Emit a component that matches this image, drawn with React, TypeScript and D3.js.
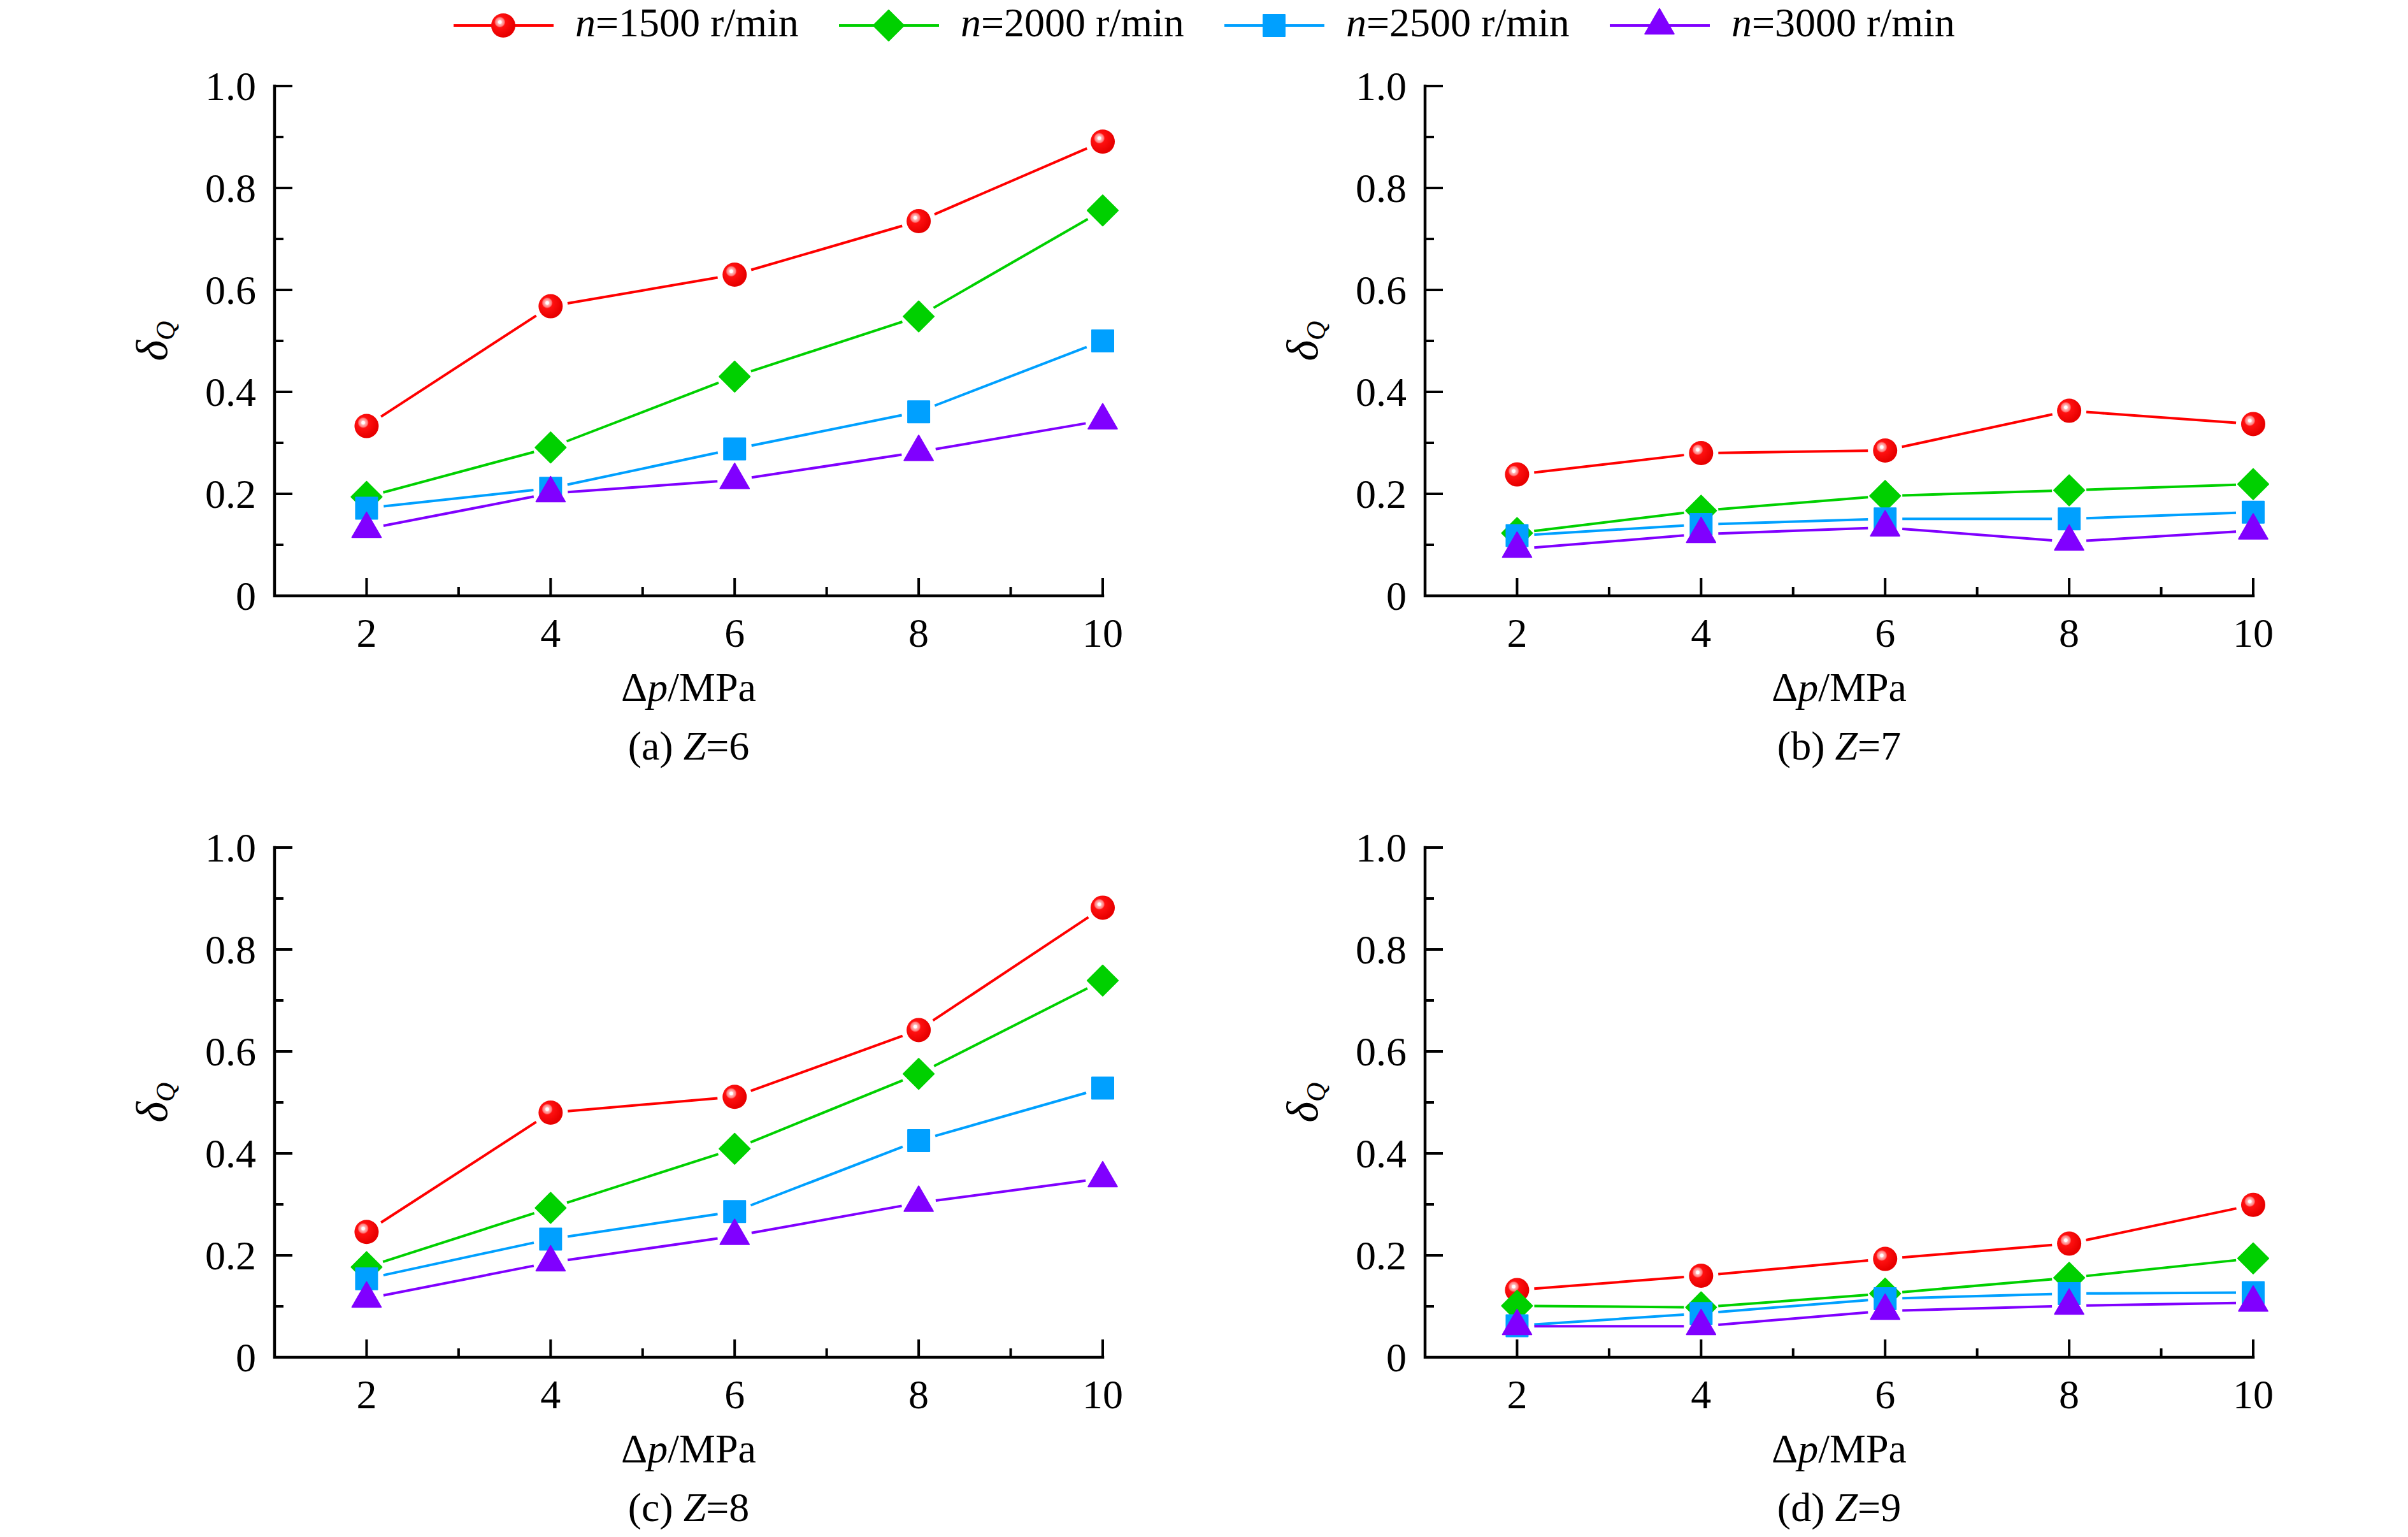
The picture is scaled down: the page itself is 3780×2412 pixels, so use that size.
import React from 'react';
import * as d3 from 'd3';

// Δp values (MPa) on the x axis
const pressures = [2, 4, 6, 8, 10];
const speeds = [1500, 2000, 2500, 3000];
const colors = ['#ff0000', '#00d000', '#00a0ff', '#8000ff'];
const markers = ['circle', 'diamond', 'square', 'triangle'];

const yTicks = [0, 0.2, 0.4, 0.6, 0.8, 1.0];
const yMinor = [0.1, 0.3, 0.5, 0.7, 0.9];
const xMinor = [3, 5, 7, 9];

// δQ per speed (rows) and pressure (columns)
const deltaZ6 = [
  [0.333, 0.568, 0.630, 0.735, 0.891],
  [0.194, 0.291, 0.430, 0.548, 0.756],
  [0.172, 0.211, 0.288, 0.361, 0.500],
  [0.131, 0.201, 0.227, 0.282, 0.344],
];
const deltaZ7 = [
  [0.238, 0.280, 0.285, 0.363, 0.337],
  [0.123, 0.167, 0.196, 0.207, 0.219],
  [0.118, 0.140, 0.151, 0.151, 0.164],
  [0.092, 0.121, 0.134, 0.106, 0.128],
];
const deltaZ8 = [
  [0.246, 0.480, 0.511, 0.642, 0.882],
  [0.177, 0.293, 0.409, 0.556, 0.739],
  [0.154, 0.232, 0.286, 0.425, 0.528],
  [0.115, 0.186, 0.238, 0.303, 0.351],
];
const deltaZ9 = [
  [0.132, 0.160, 0.193, 0.223, 0.299],
  [0.101, 0.098, 0.125, 0.156, 0.194],
  [0.062, 0.086, 0.115, 0.125, 0.127],
  [0.061, 0.061, 0.091, 0.101, 0.107],
];

const panels = [
  { tag: 'a', z: 6, data: deltaZ6, col: 0, row: 0 },
  { tag: 'b', z: 7, data: deltaZ7, col: 1, row: 0 },
  { tag: 'c', z: 8, data: deltaZ8, col: 0, row: 1 },
  { tag: 'd', z: 9, data: deltaZ9, col: 1, row: 1 },
];

const W = 3780;
const H = 2412;
const FONT = '"Liberation Serif", "Times New Roman", serif';
const FS = 64;
const left = 431, right = 1731, top = 135, bottom = 935;
const colStep = 1806, rowStep = 1195;
const GAP = 27;

const x = d3.scaleLinear().domain([1, 10]).range([left, right]);
const y = d3.scaleLinear().domain([0, 1]).range([bottom, top]);

const diamondPath = d3.symbol(d3.symbolSquare, 34 * 34)() as string;
const squarePath = d3.symbol(d3.symbolSquare, 34 * 34)() as string;
const trianglePath = d3.symbol(d3.symbolTriangle, 900)() as string;

function Marker({ kind, color, cx, cy }: { kind: string; color: string; cx: number; cy: number }) {
  if (kind === 'circle') {
    return <circle cx={cx} cy={cy} r={19} fill="url(#ball)" />;
  }
  const d = kind === 'diamond' ? diamondPath : kind === 'square' ? squarePath : trianglePath;
  const rot = kind === 'diamond' ? ' rotate(45)' : '';
  return (
    <path
      d={d}
      transform={`translate(${cx},${cy})${rot}`}
      fill={color}
      stroke={color}
      strokeWidth={2}
      strokeLinejoin="round"
    />
  );
}

// line pieces between markers, cut back so they stop short of each symbol
function segments(pts: [number, number][]) {
  const out: [number, number, number, number][] = [];
  for (let i = 0; i < pts.length - 1; i++) {
    const [x1, y1] = pts[i];
    const [x2, y2] = pts[i + 1];
    const len = Math.hypot(x2 - x1, y2 - y1);
    if (len <= GAP * 2) continue;
    const ux = (x2 - x1) / len, uy = (y2 - y1) / len;
    out.push([x1 + ux * GAP, y1 + uy * GAP, x2 - ux * GAP, y2 - uy * GAP]);
  }
  return out;
}

function Panel({ tag, z, data, col, row }: any) {
  const dx = col * colStep;
  const dy = row * rowStep;
  const midX = (left + right) / 2;
  return (
    <g transform={`translate(${dx},${dy})`}>
      {/* axes */}
      <path d={`M${left},${top}V${bottom}H${right}`} fill="none" stroke="#000" strokeWidth={4.5} strokeLinecap="square" />
      {yTicks.slice(1).map(t => (
        <line key={'ym' + t} x1={left} x2={left + 28} y1={y(t)} y2={y(t)} stroke="#000" strokeWidth={4} />
      ))}
      {yMinor.map(t => (
        <line key={'yn' + t} x1={left} x2={left + 14} y1={y(t)} y2={y(t)} stroke="#000" strokeWidth={4} />
      ))}
      {pressures.map(p => (
        <line key={'xm' + p} x1={x(p)} x2={x(p)} y1={bottom} y2={bottom - 28} stroke="#000" strokeWidth={4} />
      ))}
      {xMinor.map(p => (
        <line key={'xn' + p} x1={x(p)} x2={x(p)} y1={bottom} y2={bottom - 14} stroke="#000" strokeWidth={4} />
      ))}
      {yTicks.map(t => (
        <text key={'yl' + t} x={left - 29} y={y(t)} dy="0.35em" textAnchor="end" fontSize={FS} fontFamily={FONT}>
          {t === 0 ? '0' : t.toFixed(1)}
        </text>
      ))}
      {pressures.map(p => (
        <text key={'xl' + p} x={x(p)} y={bottom + 80} textAnchor="middle" fontSize={FS} fontFamily={FONT}>
          {p}
        </text>
      ))}
      <text x={midX} y={1100} textAnchor="middle" fontSize={FS} fontFamily={FONT}>
        Δ<tspan fontStyle="italic">p</tspan>/MPa
      </text>
      <text x={midX} y={1192} textAnchor="middle" fontSize={FS} fontFamily={FONT}>
        ({tag}) <tspan fontStyle="italic">Z</tspan>={z}
      </text>
      <text transform={`translate(262,${(top + bottom) / 2}) rotate(-90)`} textAnchor="middle" fontSize={70} fontFamily={FONT} fontStyle="italic">
        δ<tspan fontSize={42} dy={12}>Q</tspan>
      </text>
      {/* series */}
      {data.map((vals: number[], si: number) => {
        const pts = vals.map((v, i) => [x(pressures[i]), y(v)] as [number, number]);
        return (
          <g key={si}>
            {segments(pts).map((s, k) => (
              <line key={k} x1={s[0]} y1={s[1]} x2={s[2]} y2={s[3]} stroke={colors[si]} strokeWidth={4} />
            ))}
            {pts.map((p, k) => (
              <Marker key={k} kind={markers[si]} color={colors[si]} cx={p[0]} cy={p[1]} />
            ))}
          </g>
        );
      })}
    </g>
  );
}

function Legend() {
  return (
    <g>
      {speeds.map((s, i) => {
        const x0 = 712 + i * 605;
        return (
          <g key={s}>
            <line x1={x0} x2={x0 + 157} y1={40} y2={40} stroke={colors[i]} strokeWidth={4} />
            <Marker kind={markers[i]} color={colors[i]} cx={x0 + 78} cy={40} />
            <text x={x0 + 191} y={57} fontSize={FS} fontFamily={FONT}>
              <tspan fontStyle="italic">n</tspan>={s} r/min
            </text>
          </g>
        );
      })}
    </g>
  );
}

export default function App() {
  return (
    <div style={{ position: 'absolute', left: 0, top: 0 }}>
      <svg width={W} height={H} viewBox={`0 0 ${W} ${H}`} style={{ display: 'block', background: '#fff' }}>
        <defs>
          <radialGradient id="ball" cx="0.36" cy="0.36" fx="0.36" fy="0.36" r="0.6">
            <stop offset="0" stopColor="#ffffff" />
            <stop offset="0.1" stopColor="#ffffff" />
            <stop offset="0.16" stopColor="#ffb4b4" />
            <stop offset="0.3" stopColor="#ff7a7a" />
            <stop offset="0.38" stopColor="#ff1010" />
            <stop offset="1" stopColor="#e80000" />
          </radialGradient>
        </defs>
        <Legend />
        {panels.map(p => (
          <Panel key={p.tag} {...p} />
        ))}
      </svg>
    </div>
  );
}
